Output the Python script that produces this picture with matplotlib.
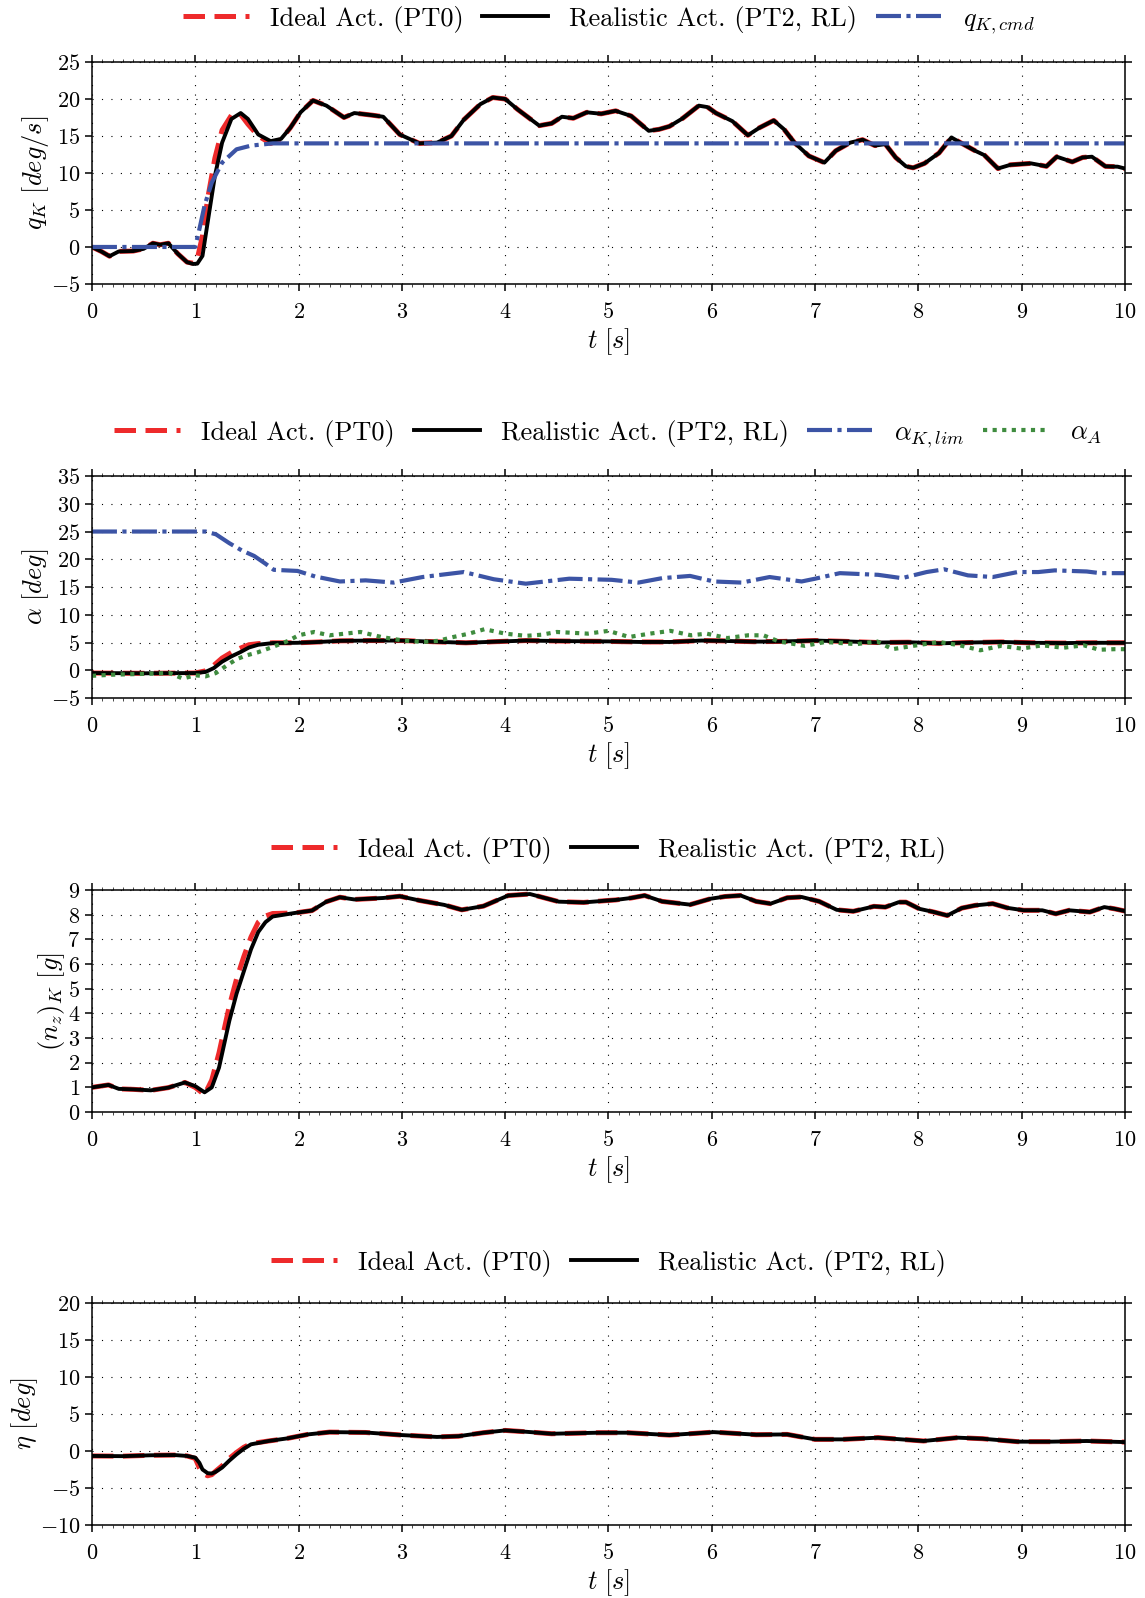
import numpy as np
import matplotlib
matplotlib.use("Agg")
import matplotlib.pyplot as plt

plt.rcParams['font.family'] = 'serif'
plt.rcParams['font.serif'] = ['cmr10', 'DejaVu Serif']
plt.rcParams['mathtext.fontset'] = 'cm'
plt.rcParams['axes.formatter.use_mathtext'] = True

# ---- panel 1: pitch rate q_K [deg/s] ----
t_q = [0.00, 0.09, 0.17, 0.26, 0.40, 0.50, 0.59, 0.66, 0.74, 0.83, 0.92, 0.98,
       1.02, 1.07, 1.12, 1.19, 1.26, 1.35, 1.44, 1.51, 1.61, 1.73, 1.83, 1.92,
       2.02, 2.14, 2.27, 2.44, 2.54, 2.72, 2.82, 2.98, 3.17, 3.34, 3.48, 3.60,
       3.76, 3.88, 4.00, 4.12, 4.33, 4.45, 4.55, 4.66, 4.79, 4.93, 5.07, 5.22,
       5.39, 5.49, 5.59, 5.72, 5.875, 5.96, 6.04, 6.20, 6.35, 6.46, 6.60, 6.70,
       6.80, 6.94, 7.09, 7.20, 7.34, 7.46, 7.58, 7.68, 7.78, 7.88, 7.95, 8.06,
       8.20, 8.32, 8.42, 8.55, 8.64, 8.77, 8.89, 9.09, 9.24, 9.34, 9.49, 9.59,
       9.68, 9.81, 9.93, 10.00]
q_real = [0.0, -0.6, -1.25, -0.6, -0.55, -0.25, 0.5, 0.3, 0.5, -0.9, -2.05, -2.3,
          -2.25, -1.2, 3.3, 9.6, 14.1, 17.3, 18.1, 17.3, 15.2, 14.3, 14.6, 16.1,
          18.2, 19.8, 19.1, 17.5, 18.1, 17.8, 17.6, 15.2, 14.0, 14.1, 15.0, 17.2,
          19.3, 20.2, 20.0, 18.6, 16.4, 16.7, 17.6, 17.4, 18.2, 18.0, 18.4, 17.7,
          15.7, 15.9, 16.3, 17.4, 19.1, 18.9, 18.1, 17.0, 15.1, 16.1, 17.1, 15.9,
          14.1, 12.3, 11.4, 13.0, 14.1, 14.5, 13.7, 13.9, 12.1, 10.9, 10.7, 11.3,
          12.7, 14.8, 14.0, 13.0, 12.4, 10.6, 11.1, 11.3, 10.9, 12.2, 11.5, 12.1,
          12.2, 10.9, 10.85, 10.6]
q_ideal = [0.0, -0.6, -1.25, -0.6, -0.55, -0.25, 0.5, 0.3, 0.5, -0.9, -2.05, -2.2,
           -1.6, 1.5, 6.5, 12.0, 15.8, 17.8, 17.9, 16.6, 15.0, 14.0, 14.5, 16.1,
           18.2, 19.8, 19.1, 17.5, 18.1, 17.8, 17.6, 15.2, 14.0, 14.1, 15.0, 17.2,
           19.3, 20.2, 20.0, 18.6, 16.4, 16.7, 17.6, 17.4, 18.2, 18.0, 18.4, 17.7,
           15.7, 15.9, 16.3, 17.4, 19.1, 18.9, 18.1, 17.0, 15.1, 16.1, 17.1, 15.9,
           14.1, 12.3, 11.4, 13.0, 14.1, 14.5, 13.7, 13.9, 12.1, 10.9, 10.7, 11.3,
           12.7, 14.8, 14.0, 13.0, 12.4, 10.6, 11.1, 11.3, 10.9, 12.2, 11.5, 12.1,
           12.2, 10.9, 10.85, 10.6]
t_cmd = [0.0, 1.0, 1.04, 1.09, 1.16, 1.26, 1.40, 1.54, 1.75, 2.0, 10.0]
q_cmd = [0.0, 0.0, 2.4, 5.6, 8.7, 11.4, 13.2, 13.7, 14.0, 14.0, 14.0]

# ---- panel 2: angle of attack [deg] ----
t_a = [0.0, 0.5, 1.0, 1.1, 1.18, 1.26, 1.35, 1.44, 1.52, 1.61, 1.75, 1.99, 2.2,
       2.4, 2.7, 3.0, 3.3, 3.62, 3.9, 4.2, 4.6, 5.0, 5.3, 5.6, 5.9, 6.1, 6.4,
       6.7, 7.0, 7.3, 7.6, 7.9, 8.2, 8.5, 8.8, 9.1, 9.4, 9.7, 10.0]
a_real = [-0.5, -0.55, -0.5, -0.3, 0.4, 1.55, 2.5, 3.3, 4.1, 4.6, 4.9, 4.95, 5.1,
          5.3, 5.35, 5.35, 5.15, 4.95, 5.15, 5.35, 5.25, 5.2, 5.1, 5.1, 5.35, 5.3,
          5.15, 5.2, 5.35, 5.2, 5.0, 5.05, 4.85, 5.0, 5.1, 4.95, 4.9, 4.95, 4.95]
a_ideal = [-0.5, -0.55, -0.5, -0.1, 0.9, 2.2, 3.2, 4.0, 4.6, 4.8, 4.95, 4.95, 5.1,
           5.3, 5.35, 5.35, 5.15, 4.95, 5.15, 5.35, 5.25, 5.2, 5.1, 5.1, 5.35, 5.3,
           5.15, 5.2, 5.35, 5.2, 5.0, 5.05, 4.85, 5.0, 5.1, 4.95, 4.9, 4.95, 4.95]
t_lim = [0.0, 1.1, 1.2, 1.33, 1.45, 1.57, 1.68, 1.76, 1.99, 2.16, 2.4, 2.65, 2.92,
         3.2, 3.6, 3.89, 4.2, 4.62, 5.03, 5.29, 5.52, 5.79, 6.02, 6.29, 6.56, 6.87,
         7.0, 7.24, 7.61, 7.84, 8.08, 8.25, 8.48, 8.72, 8.96, 9.16, 9.32, 9.63,
         9.76, 10.0]
a_lim = [25.0, 25.0, 24.5, 22.9, 21.6, 20.6, 19.2, 18.1, 17.9, 16.9, 16.0, 16.2,
         15.8, 16.8, 17.7, 16.4, 15.6, 16.5, 16.3, 15.8, 16.6, 17.0, 16.0, 15.8,
         16.8, 16.0, 16.5, 17.5, 17.2, 16.6, 17.7, 18.2, 17.1, 16.8, 17.7, 17.7,
         18.0, 17.8, 17.5, 17.5]
t_aA = [0.0, 0.2, 0.4, 0.6, 0.75, 0.88, 1.0, 1.1, 1.2, 1.3, 1.4, 1.5, 1.6, 1.75,
        1.9, 2.0, 2.15, 2.3, 2.45, 2.6, 2.8, 3.0, 3.2, 3.35, 3.5, 3.65, 3.8, 4.0,
        4.2, 4.35, 4.5, 4.8, 5.0, 5.2, 5.4, 5.6, 5.8, 5.95, 6.15, 6.35, 6.5, 6.65,
        6.9, 7.1, 7.4, 7.6, 7.75, 7.95, 8.2, 8.4, 8.6, 8.8, 9.0, 9.2, 9.4, 9.6,
        9.75, 9.9, 10.0]
a_A = [-1.0, -0.8, -0.7, -0.6, -0.5, -1.5, -0.9, -1.1, -0.5, 0.8, 2.0, 2.7, 3.2,
       4.2, 5.3, 6.3, 6.9, 6.3, 6.6, 6.9, 6.0, 5.4, 5.1, 5.3, 6.0, 6.6, 7.4, 6.6,
       6.2, 6.4, 6.9, 6.6, 7.1, 6.0, 6.6, 7.1, 6.3, 6.6, 5.8, 6.3, 6.3, 5.2, 4.4,
       5.1, 4.7, 5.2, 3.8, 4.4, 5.1, 4.5, 3.6, 4.4, 3.9, 4.5, 4.05, 4.5, 3.7, 3.8,
       3.8]

# ---- panel 3: load factor (n_z)_K [g] ----
t_n = [0.0, 0.16, 0.26, 0.4, 0.57, 0.74, 0.9, 1.0, 1.09, 1.16, 1.23, 1.33, 1.4,
       1.47, 1.54, 1.61, 1.68, 1.75, 1.96, 2.13, 2.27, 2.4, 2.54, 2.82, 2.98,
       3.17, 3.41, 3.58, 3.79, 4.03, 4.24, 4.52, 4.76, 5.0, 5.07, 5.22, 5.35,
       5.52, 5.79, 5.99, 6.13, 6.28, 6.43, 6.57, 6.73, 6.87, 7.04, 7.21, 7.37,
       7.57, 7.68, 7.81, 7.88, 8.01, 8.15, 8.28, 8.42, 8.55, 8.72, 8.86, 9.02,
       9.2, 9.33, 9.46, 9.66, 9.8, 9.9, 10.0]
n_real = [1.0, 1.1, 0.94, 0.92, 0.88, 0.99, 1.2, 1.05, 0.8, 1.0, 1.8, 3.7, 4.8,
          5.7, 6.6, 7.3, 7.7, 7.93, 8.07, 8.17, 8.53, 8.71, 8.62, 8.68, 8.75,
          8.58, 8.4, 8.2, 8.35, 8.78, 8.84, 8.53, 8.5, 8.58, 8.6, 8.68, 8.78,
          8.54, 8.41, 8.65, 8.74, 8.78, 8.54, 8.45, 8.69, 8.72, 8.54, 8.2, 8.14,
          8.34, 8.31, 8.51, 8.51, 8.24, 8.11, 7.97, 8.27, 8.38, 8.45, 8.28, 8.18,
          8.18, 8.04, 8.18, 8.11, 8.31, 8.24, 8.15]
n_ideal = [1.0, 1.1, 0.94, 0.92, 0.88, 0.99, 1.2, 1.0, 0.7, 1.3, 2.4, 4.3, 5.4,
           6.3, 7.1, 7.7, 7.95, 8.05, 8.07, 8.17, 8.53, 8.71, 8.62, 8.68, 8.75,
           8.58, 8.4, 8.2, 8.35, 8.78, 8.84, 8.53, 8.5, 8.58, 8.6, 8.68, 8.78,
           8.54, 8.41, 8.65, 8.74, 8.78, 8.54, 8.45, 8.69, 8.72, 8.54, 8.2, 8.14,
           8.34, 8.31, 8.51, 8.51, 8.24, 8.11, 7.97, 8.27, 8.38, 8.45, 8.28, 8.18,
           8.18, 8.04, 8.18, 8.11, 8.31, 8.24, 8.15]

# ---- panel 4: elevator eta [deg] ----
t_e = [0.0, 0.3, 0.57, 0.8, 0.92, 1.0, 1.04, 1.07, 1.12, 1.16, 1.2, 1.26, 1.33,
       1.4, 1.47, 1.54, 1.71, 1.89, 2.09, 2.3, 2.65, 3.0, 3.34, 3.55, 3.79, 4.0,
       4.2, 4.45, 4.9, 5.18, 5.59, 6.02, 6.43, 6.73, 7.0, 7.27, 7.61, 8.05, 8.38,
       8.62, 8.96, 9.29, 9.63, 10.0]
e_real = [-0.67, -0.7, -0.58, -0.55, -0.67, -0.9, -1.6, -2.5, -3.0, -3.05, -2.8,
          -2.24, -1.3, -0.45, 0.3, 0.9, 1.35, 1.7, 2.24, 2.55, 2.5, 2.15, 1.9, 2.0,
          2.47, 2.78, 2.6, 2.33, 2.47, 2.47, 2.15, 2.55, 2.2, 2.24, 1.57, 1.57, 1.8,
          1.35, 1.8, 1.66, 1.26, 1.26, 1.35, 1.2]
e_ideal = [-0.67, -0.7, -0.58, -0.55, -0.67, -1.0, -2.3, -3.0, -3.35, -3.2, -2.7,
           -2.0, -1.0, -0.2, 0.5, 1.0, 1.35, 1.7, 2.24, 2.55, 2.5, 2.15, 1.9, 2.0,
           2.47, 2.78, 2.6, 2.33, 2.47, 2.47, 2.15, 2.55, 2.2, 2.24, 1.57, 1.57, 1.8,
           1.35, 1.8, 1.66, 1.26, 1.26, 1.35, 1.2]

RED = '#ee2a2b'
BLUE = '#3c54a5'
GREEN = '#3f8c3f'
lbl_ideal = 'Ideal Act. (PT0)'
lbl_real = 'Realistic Act. (PT2, RL)'

fig = plt.figure(figsize=(11.45, 15.98), dpi=100)
left, width = 0.0803, 0.9022
bottoms = [0.8223, 0.5632, 0.3041, 0.0457]
height = 0.1389


def style_axes(ax, ylim, ystep, ylabel):
    ax.set_xlim(0, 10)
    ax.set_ylim(*ylim)
    ax.set_xticks(np.arange(0, 11, 1))
    ax.set_xticks(np.arange(0, 10.01, 0.1), minor=True)
    ax.set_yticks(np.arange(ylim[0], ylim[1] + 0.01, ystep))
    ax.tick_params(which='both', direction='out', top=True, right=True,
                   labelsize=16)
    ax.tick_params(which='major', length=5, width=1.1)
    ax.tick_params(which='minor', length=2, width=0.5)
    ax.tick_params(axis='x', which='major', pad=8)
    ax.grid(True, which='major', color='black', lw=0.8,
            linestyle=(0, (1, 7.5)))
    for s in ax.spines.values():
        s.set_linewidth(1.1)
    ax.set_xlabel(r'$t\ [s]$', fontsize=19, labelpad=3)
    ax.set_ylabel(ylabel, fontsize=19, labelpad=0)


axes = [fig.add_axes([left, b, width, height]) for b in bottoms]

ax = axes[0]
ax.plot(t_q, q_ideal, color=RED, lw=3.6, dashes=(4.3, 1.9), label=lbl_ideal)
ax.plot(t_q, q_real, color='black', lw=2.8, label=lbl_real)
ax.plot(t_cmd, q_cmd, color=BLUE, lw=3.0, dashes=(6, 1.3, 1, 1.3),
        label=r'$q_{K,cmd}$')
style_axes(ax, (-5, 25), 5, r'$q_K\ [deg/s]$')

ax = axes[1]
ax.plot(t_a, a_ideal, color=RED, lw=3.6, dashes=(4.3, 1.9), label=lbl_ideal)
ax.plot(t_a, a_real, color='black', lw=2.8, label=lbl_real)
ax.plot(t_lim, a_lim, color=BLUE, lw=3.0, dashes=(6, 1.3, 1, 1.3),
        label=r'$\alpha_{K,lim}$')
ax.plot(t_aA, a_A, color=GREEN, lw=3.0, dashes=(1, 1.3), label=r'$\alpha_A$')
style_axes(ax, (-5, 35), 5, r'$\alpha\ [deg]$')

ax = axes[2]
ax.plot(t_n, n_ideal, color=RED, lw=3.6, dashes=(4.3, 1.9), label=lbl_ideal)
ax.plot(t_n, n_real, color='black', lw=2.8, label=lbl_real)
style_axes(ax, (0, 9), 1, r'$(n_z)_K\ [g]$')

ax = axes[3]
ax.plot(t_e, e_ideal, color=RED, lw=3.6, dashes=(4.3, 1.9), label=lbl_ideal)
ax.plot(t_e, e_real, color='black', lw=2.8, label=lbl_real)
style_axes(ax, (-10, 20), 5, r'$\eta\ [deg]$')

for ax in axes:
    n = len(ax.get_lines())
    ax.legend(loc='lower center', bbox_to_anchor=(0.5, 1.0), ncol=n,
              frameon=False, fontsize=19, handlelength=2.5,
              handletextpad=0.8, columnspacing=0.7, borderaxespad=0.6)

fig.savefig('out.png', dpi=100)
